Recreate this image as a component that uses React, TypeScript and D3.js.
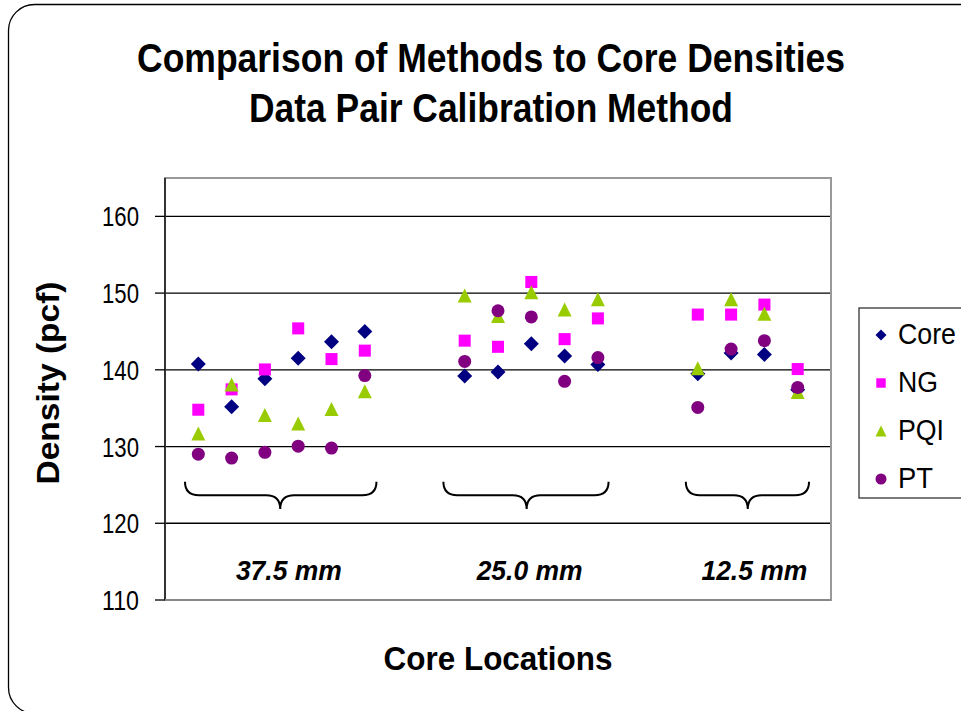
import React from "react";
import * as d3 from "d3";

const positions = [1, 2, 3, 4, 5, 6, 9, 10, 11, 12, 13, 16, 17, 18, 19];
const coreVals = [140.75, 135.2, 138.85, 141.5, 143.65, 145.0, 139.2, 139.7, 143.4, 141.8, 140.7, 139.5, 142.2, 142.0, 137.4];
const ngVals = [134.8, 137.45, 140.05, 145.4, 141.4, 142.5, 143.8, 143.0, 151.45, 144.0, 146.7, 147.2, 147.2, 148.5, 140.1];
const pqiVals = [131.7, 138.1, 134.1, 133.0, 134.9, 137.2, 149.7, 147.0, 150.1, 147.85, 149.2, 140.2, 149.2, 147.3, 137.1];
const ptVals = [129.0, 128.5, 129.25, 130.05, 129.8, 139.25, 141.1, 147.7, 146.9, 138.5, 141.6, 135.1, 142.7, 143.8, 137.7];

const seriesNames = ["Core", "NG", "PQI", "PT"];
const seriesColors = ["#000080", "#FF00FF", "#99CC00", "#800080"];
const seriesShapes = ["diamond", "square", "triangle", "circle"];
const seriesValues = [coreVals, ngVals, pqiVals, ptVals];
const legendWidths = [58, 40, 46, 35];

const yTicks = [110, 120, 130, 140, 150, 160];
const gridTicks = [120, 130, 140, 150, 160];

const groupLabels = ["37.5 mm", "25.0 mm", "12.5 mm"];
const groupLabelAt = [3.72, 10.95, 17.7];
const braceFrom = [0.6, 8.36, 15.64];
const braceTip = [3.46, 10.86, 17.5];
const braceTo = [6.35, 13.32, 19.34];

const titleLines = ["Comparison of Methods to Core Densities", "Data Pair Calibration Method"];
const xTitle = "Core Locations";
const yTitle = "Density (pcf)";

const W = 961;
const H = 711;
const plot = { left: 165, right: 831, top: 178, bottom: 600 };
const narrow = "'Liberation Sans Narrow', 'Arial Narrow', 'Liberation Sans', Arial, sans-serif";

function markerPath(shape: string, s: number): string {
  const h = s / 2;
  if (shape === "diamond") return `M0,${-h}L${h},0L0,${h}L${-h},0Z`;
  if (shape === "square") {
    const q = h * 0.86;
    return `M${-q},${-q}H${q}V${q}H${-q}Z`;
  }
  if (shape === "triangle") {
    return `M0,${-h}L${h},${h}L${-h},${h}Z`;
  }
  return d3.arc()({ innerRadius: 0, outerRadius: h, startAngle: 0, endAngle: 2 * Math.PI }) as string;
}

export default function App() {
  const x = d3.scaleLinear().domain([0, 20]).range([plot.left, plot.right]);
  const y = d3.scaleLinear().domain([110, 165]).range([plot.bottom, plot.top]);

  const bTop = y(125.4);
  const bMid = y(123.65);
  const bTip = y(121.85);

  const bracePath = (x0: number, t: number, x1: number) => {
    const r = 14;
    return `M${x0},${bTop}Q${x0},${bMid} ${x0 + r},${bMid}L${t - r},${bMid}Q${t},${bMid} ${t},${bTip}Q${t},${bMid} ${t + r},${bMid}L${x1 - r},${bMid}Q${x1},${bMid} ${x1},${bTop}`;
  };

  return (
    <svg width={W} height={H} style={{ position: "absolute", left: 0, top: 0, background: "#fff" }}>
      <rect x={8.5} y={4.5} width={1000} height={709} rx={26} ry={26} fill="#fff" stroke="#000" strokeWidth={1.3} />

      {titleLines.map((t, i) => (
        <text key={t} x={491} y={72 + i * 50} textAnchor="middle" fontFamily={narrow} fontWeight="bold" fontSize={40}
          textLength={i === 0 ? 708 : 484} lengthAdjust="spacingAndGlyphs">{t}</text>
      ))}

      <rect x={plot.left} y={plot.top} width={plot.right - plot.left} height={plot.bottom - plot.top} fill="#fff" stroke="#999" strokeWidth={2} />

      {gridTicks.map((t) => (
        <line key={t} x1={plot.left} x2={plot.right - 1} y1={y(t)} y2={y(t)} stroke="#000" strokeWidth={1.3} />
      ))}

      <line x1={plot.left} x2={plot.left} y1={plot.top} y2={plot.bottom} stroke="#333" strokeWidth={2} />
      <line x1={plot.left} x2={plot.right} y1={plot.bottom} y2={plot.bottom} stroke="#888" strokeWidth={2} />

      {yTicks.map((t) => (
        <g key={t}>
          <line x1={plot.left - 10} x2={plot.left} y1={y(t)} y2={y(t)} stroke="#000" strokeWidth={1.3} />
          <text x={139} y={y(t) + 10} textAnchor="end" fontFamily={narrow} fontSize={28} fill="#000"
            textLength={37} lengthAdjust="spacingAndGlyphs">{t}</text>
        </g>
      ))}

      <text transform={`translate(59,${383}) rotate(-90)`} textAnchor="middle" fontFamily={narrow} fontWeight="bold" fontSize={32}
        textLength={203} lengthAdjust="spacingAndGlyphs">{yTitle}</text>

      <text x={498} y={670} textAnchor="middle" fontFamily={narrow} fontWeight="bold" fontSize={33}
        textLength={229} lengthAdjust="spacingAndGlyphs">{xTitle}</text>

      {groupLabels.map((g, i) => (
        <g key={g}>
          <path d={bracePath(x(braceFrom[i]), x(braceTip[i]), x(braceTo[i]))} fill="none" stroke="#000" strokeWidth={2} />
          <text x={x(groupLabelAt[i])} y={580} textAnchor="middle" fontFamily={narrow} fontStyle="italic" fontWeight="bold" fontSize={28}
            textLength={106} lengthAdjust="spacingAndGlyphs">{g}</text>
        </g>
      ))}

      {seriesValues.map((vals, si) => (
        <g key={seriesNames[si]}>
          {vals.map((v, i) => (
            <path key={i} d={markerPath(seriesShapes[si], si === 2 ? 14 : si === 3 ? 13 : si === 1 ? 14 : 15)}
              transform={`translate(${x(positions[i])},${y(v)})`} fill={seriesColors[si]} />
          ))}
        </g>
      ))}

      <rect x={859} y={308} width={120} height={190} fill="#fff" stroke="#333" strokeWidth={1.3} />
      {seriesNames.map((n, i) => (
        <g key={n}>
          <path d={markerPath(seriesShapes[i], 11)} transform={`translate(881,${335 + i * 48})`} fill={seriesColors[i]} />
          <text x={898} y={344 + i * 48} fontFamily={narrow} fontSize={29} fill="#000"
            textLength={legendWidths[i]} lengthAdjust="spacingAndGlyphs">{n}</text>
        </g>
      ))}
    </svg>
  );
}
